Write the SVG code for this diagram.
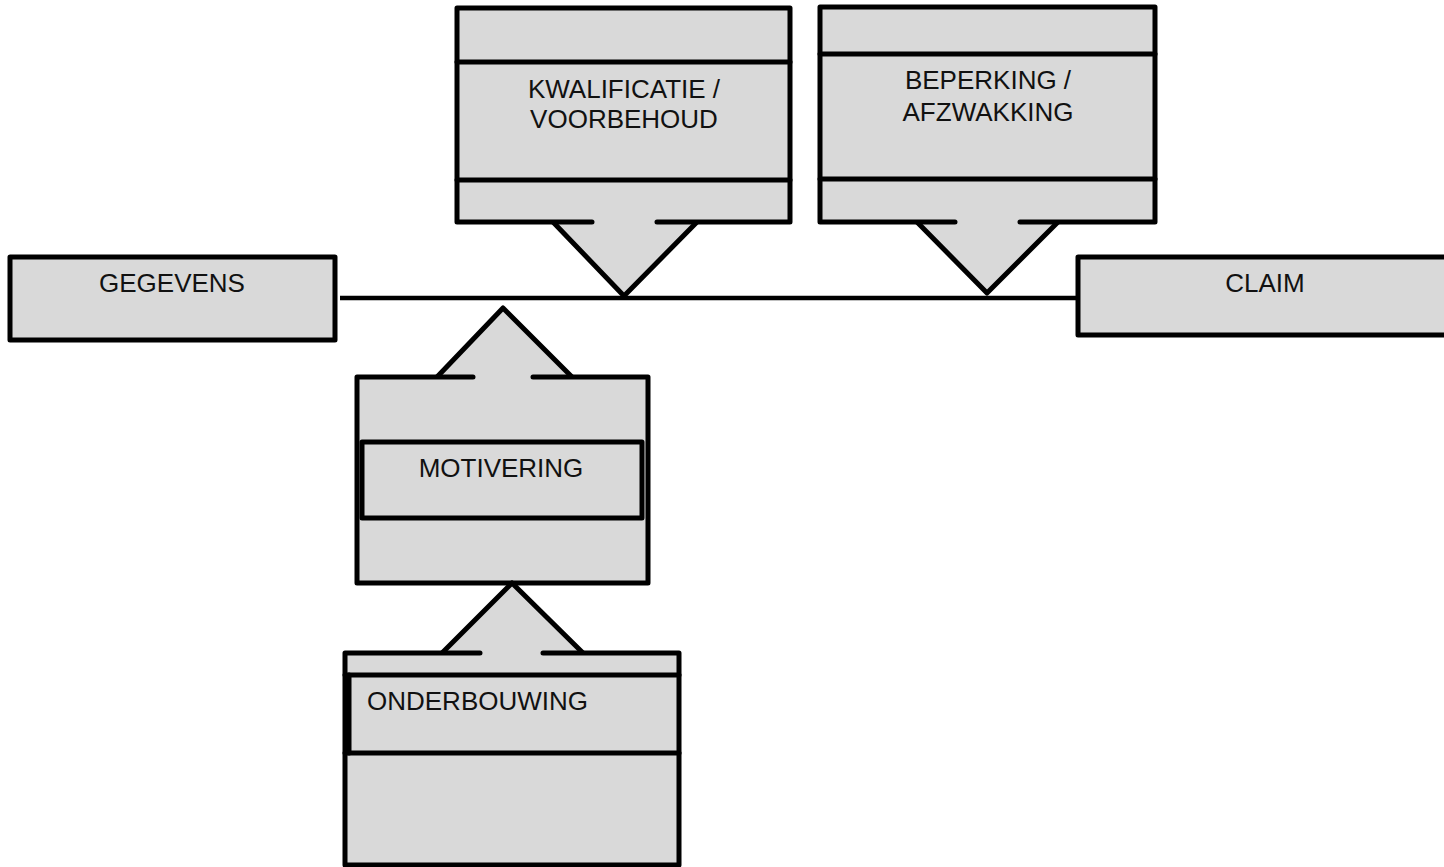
<svg xmlns="http://www.w3.org/2000/svg" width="1444" height="867" viewBox="0 0 1444 867">
<style>
.box{fill:#d9d9d9;stroke:#000;stroke-width:5;stroke-linejoin:round}
.edge{fill:none;stroke:#000;stroke-width:5;stroke-linecap:round;stroke-linejoin:round}
.tri{fill:#d9d9d9;stroke:none}
.side{fill:none;stroke:#000;stroke-width:5;stroke-linejoin:round}
.fillonly{fill:#d9d9d9;stroke:none}
.lbl{font-family:"Liberation Sans",Arial,sans-serif;font-size:26px;fill:#111}
.conn{stroke:#000;stroke-width:4.5;fill:none}
</style>
<rect width="1444" height="867" fill="#fff"/>
<g id="connectors">
<line class="conn" x1="340" y1="298" x2="1078" y2="298"/>
</g>
<g id="gegevens">
<rect class="box" x="10" y="257" width="325" height="83"/>
<text class="lbl" x="172" y="292" text-anchor="middle">GEGEVENS</text>
</g>
<g id="claim">
<rect class="box" x="1078" y="257" width="380" height="78"/>
<text class="lbl" x="1265" y="292" text-anchor="middle">CLAIM</text>
</g>
<g id="kwalificatie">
<rect class="fillonly" x="457" y="8" width="333" height="214"/>
<polygon class="tri" points="553,222 697,222 624,296"/>
<path class="edge" d="M592,222 L457,222 L457,8 L790,8 L790,222 L657,222"/>
<line class="edge" x1="457" y1="62" x2="790" y2="62"/>
<line class="edge" x1="457" y1="180" x2="790" y2="180"/>
<polyline class="side" points="553,222 624,296 697,222"/>
<text class="lbl" x="624" y="98" text-anchor="middle">KWALIFICATIE /</text>
<text class="lbl" x="624" y="128" text-anchor="middle">VOORBEHOUD</text>
</g>
<g id="beperking">
<rect class="fillonly" x="820" y="7" width="335" height="215"/>
<polygon class="tri" points="917,222 1058,222 987,293"/>
<path class="edge" d="M955,222 L820,222 L820,7 L1155,7 L1155,222 L1020,222"/>
<line class="edge" x1="820" y1="54" x2="1155" y2="54"/>
<line class="edge" x1="820" y1="179" x2="1155" y2="179"/>
<polyline class="side" points="917,222 987,293 1058,222"/>
<text class="lbl" x="988" y="89" text-anchor="middle">BEPERKING /</text>
<text class="lbl" x="988" y="121" text-anchor="middle">AFZWAKKING</text>
</g>
<g id="motivering">
<rect class="fillonly" x="357" y="377" width="291" height="206"/>
<polygon class="tri" points="437,377 572,377 503,308"/>
<path class="edge" d="M473,377 L357,377 L357,583 L648,583 L648,377 L533,377"/>
<rect class="box" x="362" y="442" width="280" height="76"/>
<polyline class="side" points="437,377 503,308 572,377"/>
<text class="lbl" x="501" y="477" text-anchor="middle">MOTIVERING</text>
</g>
<g id="onderbouwing">
<rect class="fillonly" x="345" y="653" width="334" height="212"/>
<polygon class="tri" points="442,653 583,653 512,583"/>
<path class="edge" d="M480,653 L345,653 L345,865 L679,865 L679,653 L543,653"/>
<line class="edge" x1="345" y1="675" x2="679" y2="675"/>
<line class="edge" x1="345" y1="753" x2="679" y2="753"/>
<line class="edge" x1="349" y1="675" x2="349" y2="753"/>
<polyline class="side" points="442,653 512,583 583,653"/>
<text class="lbl" x="367" y="710">ONDERBOUWING</text>
</g>
</svg>
